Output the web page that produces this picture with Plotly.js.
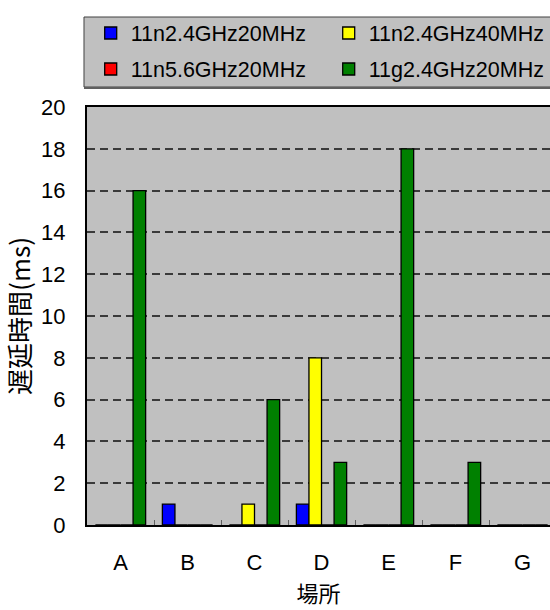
<!DOCTYPE html>
<html>
<head>
<meta charset="utf-8">
<script src="https://cdn.plot.ly/plotly-3.0.1.min.js"></script>
<style>
html,body{margin:0;padding:0;background:#fff;overflow:hidden;}
#chart{width:550px;height:610px;}
</style>
</head>
<body>
<div id="chart"></div>
<script>
// Data
var categories = ['A', 'B', 'C', 'D', 'E', 'F', 'G'];
var seriesNames = ['11n2.4GHz20MHz', '11n2.4GHz40MHz', '11n5.6GHz20MHz', '11g2.4GHz20MHz'];
var n24_20 = [0, 1, 0, 1, 0, 0, 0];
var n24_40 = [0, 0, 1, 8, 0, 0, 0];
var n56_20 = [0, 0, 0, 0, 0, 0, 0];
var g24_20 = [16, 0, 6, 3, 18, 3, 0];
var yTickVals = [0, 2, 4, 6, 8, 10, 12, 14, 16, 18, 20];
var xTitle = '場所';
var yTitle = '遅延時間(ms)';

var seriesValues = [n24_20, n24_40, n56_20, g24_20];
var seriesColors = ['#0000FF', '#FFFF00', '#FF0000', '#008000'];
var legendRow = ['legend', 'legend', 'legend2', 'legend2'];
var legendW = [193, 170, 193, 170];

var FONT = 'Liberation Sans, Arial, Noto Sans CJK JP, sans-serif';

var traces = seriesValues.map(function (vals, i) {
  return {
    type: 'bar',
    name: seriesNames[i],
    x: categories,
    y: vals,
    legend: legendRow[i],
    legendwidth: legendW[i],
    marker: { color: seriesColors[i], line: { color: '#000', width: 1.3 } },
    hoverinfo: 'x+y+name'
  };
});

function legendOpts(yPos) {
  return {
    orientation: 'h',
    x: 0.008,
    xanchor: 'left',
    y: yPos,
    yanchor: 'middle',
    bgcolor: 'rgba(0,0,0,0)',
    borderwidth: 0,
    entrywidth: 193,
    entrywidthmode: 'pixels',
    traceorder: 'normal',
    font: { family: FONT, size: 21.5, color: '#000' }
  };
}

var layout = {
  width: 550,
  height: 610,
  margin: { l: 87, r: 0, t: 107, b: 85 },
  paper_bgcolor: '#ffffff',
  plot_bgcolor: '#C0C0C0',
  font: { family: FONT, size: 21, color: '#000' },
  barmode: 'group',
  bargap: 0.25,
  bargroupgap: 0,
  showlegend: true,
  legend: legendOpts(1.177),
  legend2: legendOpts(1.0909),
  shapes: [
    {
      type: 'rect', xref: 'paper', yref: 'paper', layer: 'below',
      x0: -0.0065, x1: 1.02, y0: 1.0478, y1: 1.2153,
      fillcolor: '#C0C0C0', line: { color: '#404040', width: 1 }
    },
    {
      type: 'line', xref: 'paper', yref: 'paper', layer: 'below',
      x0: -0.0065, x1: 1.02, y0: 1.0455, y1: 1.0455,
      line: { color: '#606060', width: 2 }
    }
  ],
  xaxis: {
    type: 'category',
    range: [-0.5, 6.41],
    showline: true,
    linecolor: '#000',
    linewidth: 2,
    mirror: true,
    showgrid: false,
    zeroline: false,
    ticks: 'inside',
    tickson: 'boundaries',
    ticklen: 5,
    tickwidth: 1,
    tickcolor: '#606060',
    ticklabelstandoff: 17,
    tickfont: { family: FONT, size: 22, color: '#000' },
    title: { text: xTitle, font: { family: 'Noto Sans CJK JP, sans-serif', size: 22, color: '#000' }, standoff: 12 }
  },
  yaxis: {
    range: [0, 20],
    tickvals: yTickVals,
    ticktext: yTickVals.map(String),
    showline: true,
    linecolor: '#000',
    linewidth: 2,
    showgrid: true,
    gridcolor: '#3a3a3a',
    gridwidth: 2,
    griddash: '8px,5px',
    zeroline: false,
    ticks: '',
    ticklabelstandoff: 15,
    tickfont: { family: FONT, size: 22, color: '#000' },
    title: { text: yTitle, font: { family: 'Noto Sans CJK JP, Liberation Sans, sans-serif', size: 26, color: '#000' }, standoff: 6 }
  }
};

Plotly.newPlot('chart', traces, layout, { displayModeBar: false, staticPlot: true });
</script>
</body>
</html>
